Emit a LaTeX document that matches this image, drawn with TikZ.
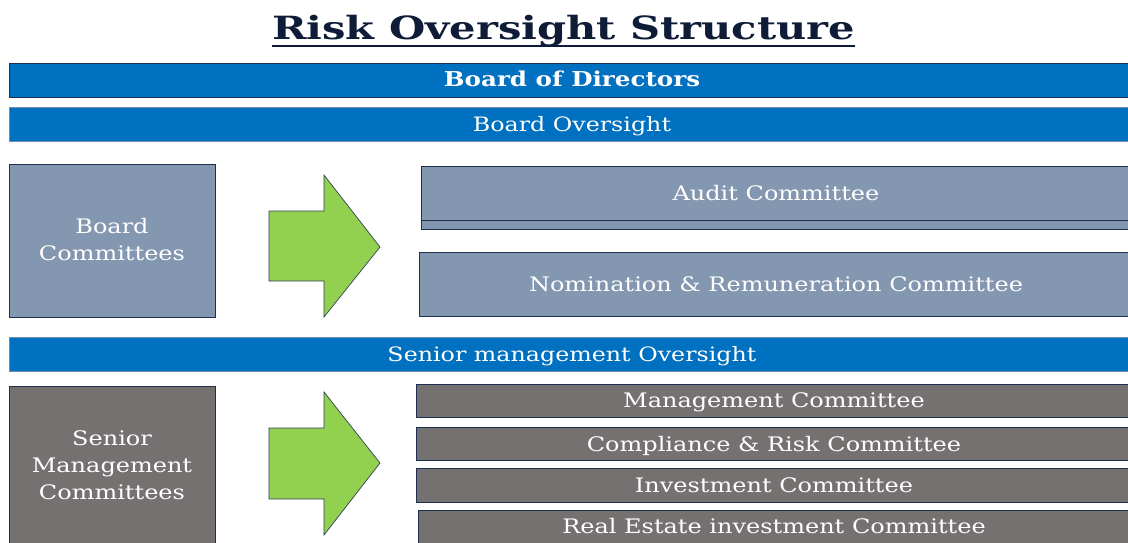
\documentclass[tikz,border=0pt]{standalone}
\usepackage{fontspec}
\setmainfont[FakeStretch=1.2]{DejaVu Serif}
\newfontfamily\titlefont[FakeStretch=1.3]{DejaVu Serif}
\usetikzlibrary{calc}
\definecolor{barblue}{HTML}{0070C0}
\definecolor{slate}{HTML}{8497B0}
\definecolor{greybox}{HTML}{767171}
\definecolor{arrowgreen}{HTML}{92D050}
\definecolor{navy}{HTML}{1F2F4F}
\definecolor{titlec}{HTML}{0F1C38}
\definecolor{lightedge}{HTML}{6F8FAF}
\begin{document}
\begin{tikzpicture}[x=1pt,y=-1pt,
  bar/.style={fill=barblue, draw=lightedge, line width=0.8pt},
  slatebox/.style={fill=slate, draw=navy, line width=1pt},
  greyboxst/.style={fill=greybox, draw=navy, line width=1pt},
  bigarrow/.style={fill=arrowgreen, draw=navy!80!gray, line width=0.7pt},
  label/.style={text=white, inner sep=0pt, font=\fontsize{20}{27}\selectfont, align=center},
  baselabel/.style={label, anchor=base},
  barlabel/.style={text=white, inner sep=0pt, anchor=base, font=\fontsize{19.8}{22}\selectfont},
]
\useasboundingbox (0,0) rectangle (1128,542);
\clip (0,0) rectangle (1128,542);
\fill[white] (0,0) rectangle (1128,542);

% title
\node[inner sep=0pt, anchor=base, text=titlec, font=\titlefont\bfseries\fontsize{32}{34}\selectfont] (title) at (563.5,39) {Risk Oversight Structure};
\draw[titlec, line width=2.5pt] ($(title.base west)+(0,7)$) -- ($(title.base east)+(0,7)$);

% bars
\draw[bar, draw=navy] (9,63) rectangle (1135,97);
\node[barlabel, font=\bfseries\fontsize{20.5}{22}\selectfont] (bod) at (572,86.5) {Board of Directors};
\draw[bar] (9,107) rectangle (1135,141);
\node[barlabel] (bo) at (572,131) {Board Oversight};
\draw[bar] (9,337) rectangle (1135,371);
\node[barlabel] (smo) at (572,361) {Senior management Oversight};

% board committees
\draw[slatebox] (9,164) rectangle (215,317);
\node[label] (bc) at (112,240) {Board\\Committees};
\draw[bigarrow] (269,211) -- (324,211) -- (324,175) -- (380,247) -- (324,317) -- (324,281) -- (269,281) -- cycle;
\draw[slatebox] (421,166) rectangle (1131,229);
\draw[navy, line width=1pt] (421,220) -- (1131,220);
\node[baselabel] (audit) at (776,200) {Audit Committee};
\draw[slatebox] (419,252) rectangle (1131,316);
\node[baselabel] (nom) at (776,291) {Nomination \& Remuneration Committee};

% senior management committees
\draw[greyboxst] (9,386) rectangle (215,560);
\node[label] (smc) at (112,465) {Senior\\Management\\Committees};
\draw[bigarrow] (269,428) -- (324,428) -- (324,392) -- (380,463) -- (324,535) -- (324,499) -- (269,499) -- cycle;
\draw[greyboxst] (416,384) rectangle (1131,417);
\node[baselabel] (mc) at (774,407) {Management Committee};
\draw[greyboxst] (416,427) rectangle (1131,460);
\node[baselabel] (crc) at (774,451) {Compliance \& Risk Committee};
\draw[greyboxst] (416,468) rectangle (1131,502);
\node[baselabel] (ic) at (774,492) {Investment Committee};
\draw[greyboxst] (418,510) rectangle (1131,560);
\node[baselabel] (reic) at (774,533) {Real Estate investment Committee};
\end{tikzpicture}
\end{document}
